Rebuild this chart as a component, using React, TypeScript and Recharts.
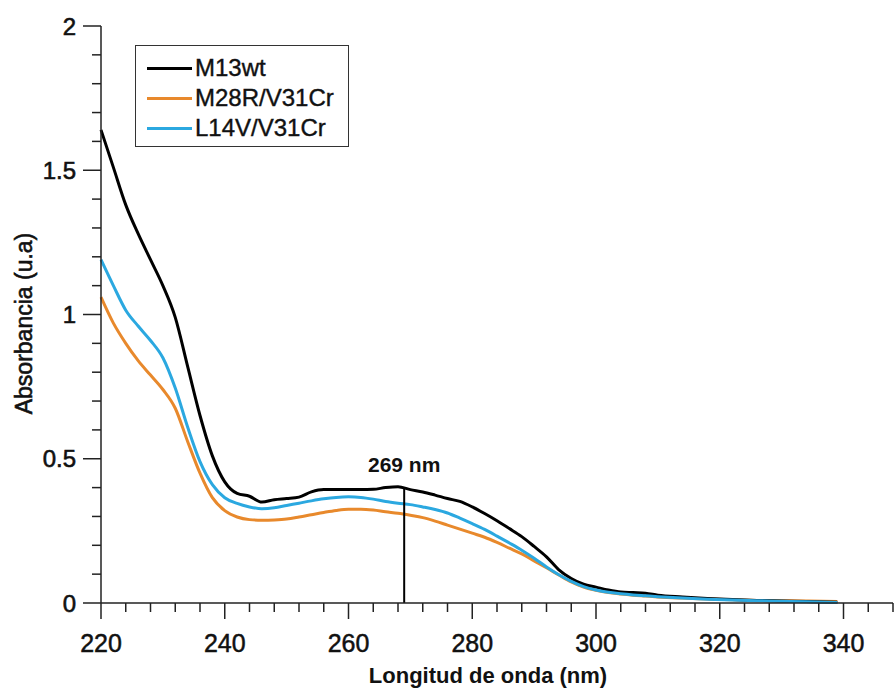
import { Label, Legend, Line, LineChart, ReferenceLine, XAxis, YAxis } from 'recharts';

// Absorbance spectra (u.a) sampled on a shared wavelength grid (nm)
const WAVELENGTHS = [
  220, 222, 224, 226, 228, 230, 232, 234, 236, 238, 240, 242, 244, 246, 248, 250, 252, 254, 256, 258,
  260, 262, 264, 266, 268, 270, 272, 274, 276, 278, 280, 282, 284, 286, 288, 290, 292, 294, 296, 298,
  300, 302, 304, 306, 308, 310, 314, 318, 322, 326, 330, 334, 339,
];

const M13WT = [
  1.64, 1.51, 1.38, 1.28, 1.19, 1.1, 0.99, 0.82, 0.65, 0.51, 0.42, 0.38, 0.37, 0.35, 0.358, 0.362, 0.367, 0.385, 0.393, 0.393,
  0.393, 0.393, 0.394, 0.4, 0.403, 0.393, 0.385, 0.374, 0.362, 0.352, 0.333, 0.31, 0.285, 0.258, 0.23, 0.196, 0.16, 0.115, 0.085, 0.065,
  0.055, 0.045, 0.038, 0.036, 0.034, 0.027, 0.021, 0.016, 0.012, 0.009, 0.007, 0.005, 0.003,
];

const M28R_V31CR = [
  1.06, 0.97, 0.9, 0.84, 0.79, 0.74, 0.675, 0.56, 0.45, 0.365, 0.32, 0.298, 0.289, 0.287, 0.288, 0.291, 0.298, 0.306, 0.314, 0.321,
  0.325, 0.325, 0.322, 0.316, 0.311, 0.304, 0.296, 0.284, 0.27, 0.256, 0.242, 0.228, 0.21, 0.19, 0.17, 0.146, 0.122, 0.097, 0.073, 0.055,
  0.044, 0.036, 0.031, 0.027, 0.024, 0.021, 0.017, 0.014, 0.011, 0.009, 0.008, 0.007, 0.005,
];

const L14V_V31CR = [
  1.19, 1.1, 1.015, 0.96, 0.91, 0.85, 0.745, 0.61, 0.49, 0.41, 0.365, 0.345, 0.333, 0.327, 0.33, 0.338, 0.346, 0.354, 0.361, 0.366,
  0.368, 0.366, 0.36, 0.352, 0.346, 0.341, 0.333, 0.324, 0.312, 0.294, 0.275, 0.255, 0.232, 0.208, 0.183, 0.155, 0.125, 0.098, 0.075, 0.057,
  0.045, 0.037, 0.032, 0.028, 0.025, 0.022, 0.017, 0.013, 0.01, 0.008, 0.006, 0.004, 0.002,
];

const X_MAJOR_TICKS = [220, 240, 260, 280, 300, 320, 340];
const X_ALL_TICKS = [
  220, 224, 228, 232, 236, 240, 244, 248, 252, 256, 260, 264, 268, 272, 276, 280, 284,
  288, 292, 296, 300, 304, 308, 312, 316, 320, 324, 328, 332, 336, 340, 344, 348,
];
const Y_MAJOR_TICKS = [0, 0.5, 1, 1.5, 2];
const Y_ALL_TICKS = [
  0, 0.1, 0.2, 0.3, 0.4, 0.5, 0.6, 0.7, 0.8, 0.9, 1, 1.1, 1.2, 1.3, 1.4, 1.5, 1.6, 1.7, 1.8, 1.9, 2,
];

const PEAK_NM = 269;
const PEAK_ABS = 0.402;

const SERIES = [
  { key: 'wt', name: 'M13wt', color: '#000000' },
  { key: 'm28r', name: 'M28R/V31Cr', color: '#e8892c' },
  { key: 'l14v', name: 'L14V/V31Cr', color: '#2ba8e0' },
];

const FONT = '"Liberation Sans", Arial, Helvetica, sans-serif';
const AXIS = '#222';
const INK = '#111';

const data = WAVELENGTHS.map((nm, i) => ({
  nm,
  wt: M13WT[i],
  m28r: M28R_V31CR[i],
  l14v: L14V_V31CR[i],
}));

function XTick({ x, y, payload }: any) {
  const major = X_MAJOR_TICKS.includes(payload.value);
  return (
    <g>
      <line x1={x} y1={y} x2={x} y2={y + (major ? 16 : 9)} stroke={AXIS} strokeWidth={1.5} />
      {major && (
        <text x={x} y={y + 49} textAnchor="middle" fontSize={25} fill={INK} stroke={INK} strokeWidth={0.5}
          fontFamily={FONT}>
          {payload.value}
        </text>
      )}
    </g>
  );
}

function YTick({ x, y, payload }: any) {
  const major = Y_MAJOR_TICKS.some((t) => Math.abs(t - payload.value) < 1e-6);
  return (
    <g>
      <line x1={x} y1={y} x2={x - (major ? 18 : 9)} y2={y} stroke={AXIS} strokeWidth={1.5} />
      {major && (
        <text x={x - 25} y={y} dy="0.355em" textAnchor="end" fontSize={24} fill={INK} stroke={INK}
          strokeWidth={0.6} fontFamily={FONT}>
          {String(payload.value)}
        </text>
      )}
    </g>
  );
}

function YTitle({ viewBox }: any) {
  const cx = viewBox.x + 32;
  const cy = viewBox.y + viewBox.height / 2 + 9;
  return (
    <text x={cx} y={cy} transform={`rotate(-90 ${cx} ${cy})`} textAnchor="middle"
      fontSize={23} fill={INK} stroke={INK} strokeWidth={0.6} fontFamily={FONT}>
      Absorbancia (u.a)
    </text>
  );
}

function XTitle({ viewBox }: any) {
  const cx = viewBox.x + viewBox.width / 2 - 9;
  return (
    <text x={cx} y={683} textAnchor="middle" fontSize={22} fontWeight="bold" fill={INK} fontFamily={FONT}>
      Longitud de onda (nm)
    </text>
  );
}

function LegendBox() {
  return (
    <div style={{
      border: '1.5px solid #333', background: '#fff', width: 214, height: 102, boxSizing: 'border-box',
      padding: '7px 0 0 11px', fontFamily: FONT, fontSize: 24, color: INK, WebkitTextStroke: '0.4px #111',
    }}>
      {SERIES.map((s) => (
        <div key={s.key} style={{ display: 'flex', alignItems: 'center', height: 30 }}>
          <span style={{ width: 45, height: 3, background: s.color, marginRight: 3 }} />
          <span>{s.name}</span>
        </div>
      ))}
    </div>
  );
}

export default function App() {
  return (
    <div style={{ position: 'absolute', left: 0, top: 0, background: '#fff' }}>
      <LineChart width={895} height={692} data={data} margin={{ top: 26, right: 2, bottom: 0, left: 0 }}
        style={{ fontFamily: FONT }}>
        <XAxis
          dataKey="nm"
          type="number"
          domain={[220, 348]}
          ticks={X_ALL_TICKS}
          interval={0}
          tick={<XTick />}
          tickLine={false}
          tickSize={0}
          tickMargin={0}
          height={89}
          axisLine={{ stroke: AXIS, strokeWidth: 1.5 }}
          label={<Label content={<XTitle />} />}
        />
        <YAxis
          type="number"
          domain={[0, 2]}
          ticks={Y_ALL_TICKS}
          interval={0}
          tick={<YTick />}
          tickLine={false}
          tickSize={0}
          tickMargin={0}
          width={101}
          axisLine={{ stroke: AXIS, strokeWidth: 1.5 }}
          label={<Label content={<YTitle />} />}
        />
        <Legend
          layout="vertical"
          align="center"
          verticalAlign="middle"
          wrapperStyle={{ left: 135, top: 45, width: 'auto', height: 'auto' }}
          content={<LegendBox />}
        />
        <Line type="monotone" dataKey="m28r" name="M28R/V31Cr" stroke="#e8892c" strokeWidth={3}
          dot={false} isAnimationActive={false} />
        <Line type="monotone" dataKey="wt" name="M13wt" stroke="#000000" strokeWidth={3}
          dot={false} isAnimationActive={false} />
        <Line type="monotone" dataKey="l14v" name="L14V/V31Cr" stroke="#2ba8e0" strokeWidth={3}
          dot={false} isAnimationActive={false} />
        <ReferenceLine
          segment={[{ x: PEAK_NM, y: 0 }, { x: PEAK_NM, y: PEAK_ABS }]}
          stroke="#000"
          strokeWidth={2}
          label={{
            value: `${PEAK_NM} nm`, position: 'top', offset: 15,
            fontSize: 21, fontWeight: 'bold', fill: INK, fontFamily: FONT,
          }}
        />
      </LineChart>
    </div>
  );
}
